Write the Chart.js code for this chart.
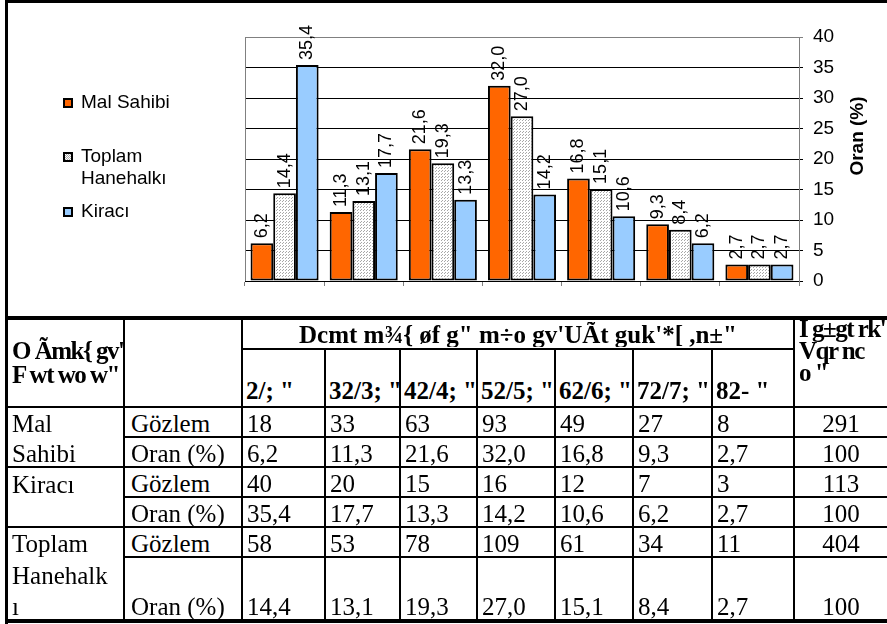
<!DOCTYPE html>
<html>
<head>
<meta charset="utf-8">
<script src="https://cdn.jsdelivr.net/npm/chart.js@4.4.1/dist/chart.umd.min.js"></script>
<style>
    body { margin: 0; background: #fff; }
    #page { position: relative; width: 887px; height: 624px; overflow: hidden; background: #fff; }
    #chartBox { position: absolute; left: 0; top: 0; width: 887px; height: 316px; }
    .ln { position: absolute; background: #000; }
    .tx { position: absolute; font-family: "Liberation Serif", "Times New Roman", serif; font-size: 25px; line-height: 25px; white-space: nowrap; color: #000; }
    .b { font-weight: bold; }
    .tight { letter-spacing: -1.5px; }
    .lg { position: absolute; font-family: "Liberation Sans", Arial, sans-serif; font-size: 19px; line-height: 22px; width: 100px; color: #000; }
    .lgbox { position: absolute; width: 10px; height: 10px; box-sizing: border-box; border: 2px solid #000; }
</style>
</head>
<body>
<div id="page">
    <div id="chartBox"><canvas id="chart" width="887" height="316"></canvas></div>
</div>
<script>
// Chart + table data
const categories = ['2/; "', '32/3; "', '42/4; "', '52/5; "', '62/6; "', '72/7; "', '82- "'];
const seriesNames = ['Mal Sahibi', 'Toplam Hanehalkı', 'Kiracı'];
const malOran = [6.2, 11.3, 21.6, 32.0, 16.8, 9.3, 2.7];
const toplamOran = [14.4, 13.1, 19.3, 27.0, 15.1, 8.4, 2.7];
const kiraciOran = [35.4, 17.7, 13.3, 14.2, 10.6, 6.2, 2.7];
const malGozlem = [18, 33, 63, 93, 49, 27, 8];
const kiraciGozlem = [40, 20, 15, 16, 12, 7, 3];
const toplamGozlem = [58, 53, 78, 109, 61, 34, 11];
const totals = [291, 100, 113, 100, 404, 100];
const yTicks = [0, 5, 10, 15, 20, 25, 30, 35, 40];
const yTitle = 'Oran (%)';

// garbled header text, as it shows in the source
const headTop = 'Dcmt m¾{ øf g" m÷o gv\'UÃt guk\'*[  ,n±"';
const headLeft = ['O Ãmk{ gv\'', 'F wt wo w"'];
const headRight = ['I g±gt rk\'', 'Vqr nc', 'o "'];

const fmt = v => v.toFixed(1).replace('.', ',');

// dotted fill for Toplam Hanehalkı
function dotPattern() {
    const c = document.createElement('canvas');
    c.width = 3; c.height = 3;
    const g = c.getContext('2d');
    g.fillStyle = '#fff';
    g.fillRect(0, 0, 3, 3);
    g.fillStyle = '#a8a8a8';
    g.fillRect(0, 0, 1, 1);
    g.fillRect(1, 2, 1, 1);
    return g.createPattern(c, 'repeat');
}
const dots = dotPattern();
const colors = ['#ff6600', dots, '#99ccff'];

// plot frame: gray top + left lines
const plotFrame = {
    id: 'plotFrame',
    beforeDatasetsDraw(chart) {
        const { ctx, chartArea: a } = chart;
        ctx.save();
        ctx.strokeStyle = '#808080';
        ctx.lineWidth = 1;
        ctx.beginPath();
        ctx.moveTo(a.left + 0.5, a.bottom);
        ctx.lineTo(a.left + 0.5, a.top + 0.5);
        ctx.lineTo(a.right, a.top + 0.5);
        ctx.stroke();
        ctx.restore();
    }
};

// rotated value labels above bars
const valueLabels = {
    id: 'valueLabels',
    afterDatasetsDraw(chart) {
        const ctx = chart.ctx;
        ctx.save();
        ctx.font = '18px "Liberation Sans", Arial, sans-serif';
        ctx.fillStyle = '#000';
        ctx.textAlign = 'left';
        ctx.textBaseline = 'middle';
        chart.data.datasets.forEach((ds, i) => {
            chart.getDatasetMeta(i).data.forEach((bar, j) => {
                ctx.save();
                ctx.translate(bar.x, bar.y - 5);
                ctx.rotate(-Math.PI / 2);
                ctx.fillText(fmt(ds.data[j]), 0, 0);
                ctx.restore();
            });
        });
        ctx.restore();
    }
};

// y title reading bottom to top
const axisTitle = {
    id: 'axisTitle',
    afterDraw(chart) {
        const ctx = chart.ctx;
        const a = chart.chartArea;
        ctx.save();
        ctx.font = 'bold 19px "Liberation Sans", Arial, sans-serif';
        ctx.fillStyle = '#000';
        ctx.textAlign = 'center';
        ctx.textBaseline = 'middle';
        ctx.translate(a.right + 59, a.top + 99);
        ctx.rotate(-Math.PI / 2);
        ctx.fillText(yTitle, 0, 0);
        ctx.restore();
    }
};

new Chart(document.getElementById('chart'), {
    type: 'bar',
    data: {
        labels: categories,
        datasets: [malOran, toplamOran, kiraciOran].map((d, i) => ({
            label: seriesNames[i],
            data: d,
            backgroundColor: colors[i],
            borderColor: '#000',
            borderWidth: 2,
            borderSkipped: false,
            categoryPercentage: 0.86,
            barPercentage: 1
        }))
    },
    options: {
        responsive: false,
        animation: false,
        layout: { padding: { left: 245, top: 37, right: 0, bottom: 0 } },
        plugins: { legend: { display: false }, tooltip: { enabled: false } },
        scales: {
            x: {
                grid: { drawOnChartArea: false, drawTicks: true, tickLength: 5, color: '#808080', offset: true },
                border: { color: '#000', width: 1 },
                ticks: { display: false },
                afterFit: s => { s.height = 35; }
            },
            y: {
                position: 'right',
                min: 0, max: 40,
                afterBuildTicks: s => { s.ticks = yTicks.map(v => ({ value: v })); },
                ticks: { color: '#000', padding: 10, font: { family: '"Liberation Sans", Arial, sans-serif', size: 19 } },
                grid: { color: c => (c.tick && c.tick.value === 40 ? '#808080' : '#000'), tickLength: 4 },
                border: { color: '#808080' },
                afterFit: s => { s.width = 88; }
            }
        }
    },
    plugins: [plotFrame, valueLabels, axisTitle]
});

// legend on the left
const page = document.getElementById('page');
const legendTops = [98, 152, 207];
seriesNames.forEach((name, i) => {
    const box = document.createElement('div');
    box.className = 'lgbox';
    box.style.left = '63px';
    box.style.top = legendTops[i] + 'px';
    box.style.background = i === 1 ? 'repeating-conic-gradient(#a8a8a8 0 25%, #fff 0 50%) 0 0/2px 2px' : colors[i];
    page.appendChild(box);
    const t = document.createElement('div');
    t.className = 'lg';
    t.style.left = '81px';
    t.style.top = (legendTops[i] - 7) + 'px';
    t.textContent = name;
    page.appendChild(t);
});

// table drawing helpers
function line(x, y, w, h) {
    const d = document.createElement('div');
    d.className = 'ln';
    d.style.left = x + 'px'; d.style.top = y + 'px';
    d.style.width = w + 'px'; d.style.height = h + 'px';
    page.appendChild(d);
}
function text(x, base, s, cls, w, align) {
    const d = document.createElement('div');
    d.className = 'tx' + (cls ? ' ' + cls : '');
    d.style.left = x + 'px';
    d.style.top = (base - 20) + 'px';
    if (w) { d.style.width = w + 'px'; d.style.textAlign = align || 'left'; d.style.overflow = 'hidden'; }
    d.textContent = s;
    page.appendChild(d);
}

const colX = [6, 124, 242, 325, 400, 477, 555, 633, 712, 794];

// outer frame
line(5, 0, 882, 3);
line(5, 0, 3, 624);
// horizontal rules
line(5, 316, 882, 4);
line(242, 348, 553, 2);
line(5, 406, 882, 2);
[437, 497, 557].forEach(y => line(124, y - 1, 763, 2));
[467, 527].forEach(y => line(5, y - 1, 882, 2));
line(5, 619, 882, 4);
// vertical rules
[124, 242, 794].forEach(x => line(x - 1, 316, 2, 305));
colX.slice(3, 9).forEach(x => line(x - 1, 348, 2, 273));

// header
text(242, 342, headTop, 'b', 552, 'center');
headLeft.forEach((s, i) => text(12, 358 + i * 24, s, 'b tight'));
headRight.forEach((s, i) => text(799, 336 + i * 22, s, 'b tight'));
categories.forEach((c, i) => {
    text(colX[i + 2] + 4, 398, c, 'b', colX[i + 3] - colX[i + 2] - 5);
});

// body rows
const rows = [
    { lab: 'Gözlem', vals: malGozlem, num: false, base: 431 },
    { lab: 'Oran (%)', vals: malOran, num: true, base: 461 },
    { lab: 'Gözlem', vals: kiraciGozlem, num: false, base: 491 },
    { lab: 'Oran (%)', vals: kiraciOran, num: true, base: 521 },
    { lab: 'Gözlem', vals: toplamGozlem, num: false, base: 551 },
    { lab: 'Oran (%)', vals: toplamOran, num: true, base: 614 }
];
rows.forEach((r, i) => {
    text(131, r.base, r.lab);
    r.vals.forEach((v, j) => text(colX[j + 2] + 5, r.base, r.num ? fmt(v) : String(v)));
    text(794, r.base, String(totals[i]), '', 94, 'center');
});
text(12, 431, 'Mal');
text(12, 461, 'Sahibi');
text(12, 492, 'Kiracı');
text(12, 551, 'Toplam');
text(12, 583, 'Hanehalk');
text(12, 614, 'ı');
</script>
</body>
</html>
